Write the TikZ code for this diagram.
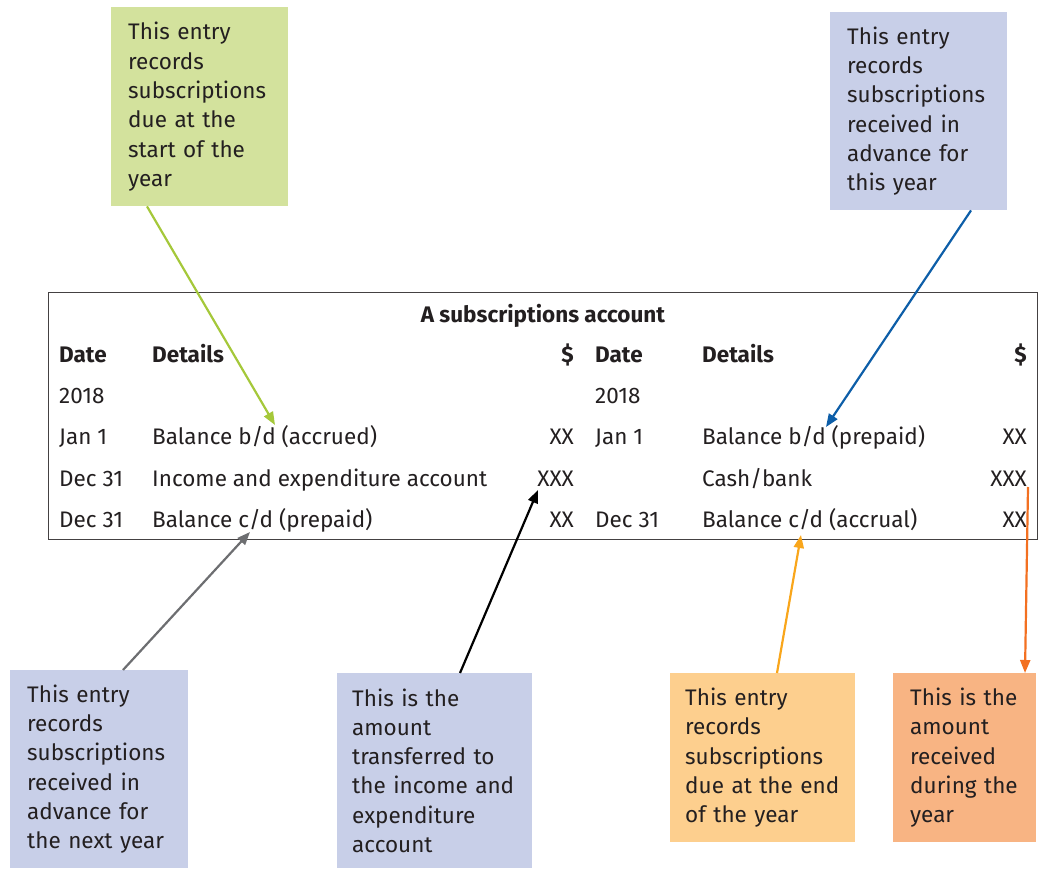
\documentclass[tikz,border=0pt]{standalone}
\usepackage{fontspec}
\setmainfont{Fira Sans}
\usepackage{xcolor}
\usetikzlibrary{arrows.meta}

% Couleurs des encadrés et des flèches
\definecolor{encre}{HTML}{231F20}
\definecolor{vertfond}{HTML}{D3E29D}
\definecolor{vertfleche}{HTML}{A5C83A}
\definecolor{bleufond}{HTML}{C8CFE8}
\definecolor{bleufleche}{HTML}{0D5EA8}
\definecolor{grisfleche}{HTML}{6D6E71}
\definecolor{jaunefond}{HTML}{FDCF8E}
\definecolor{jaunefleche}{HTML}{F9A61B}
\definecolor{orangefond}{HTML}{F8B483}
\definecolor{orangefleche}{HTML}{F37021}

\begin{document}
\begin{tikzpicture}[x=1pt, y=1pt,
    every node/.style={font=\fontsize{22.5}{29.3}\selectfont, text=encre},
    note/.style={anchor=north west, inner xsep=17pt, inner ysep=0pt, align=left},
    cell/.style={anchor=base west, inner sep=0pt},
    num/.style={anchor=base east, inner sep=0pt},
    head/.style={font=\fontsize{22.5}{29.3}\selectfont\bfseries},
    fleche/.style={-{Triangle[length=13pt, width=10pt]}, line width=2.2pt}]

    \useasboundingbox (0,0) rectangle (1046,868);

    % Cadre du compte
    \draw[line width=0.9pt, encre!85] (48,576) rectangle (1037,329);

    % Titre et en-têtes
    \node[num, head, anchor=base] (titre) at (543,545) {A subscriptions account};
    \node[cell, head] (dateG) at (59,505) {Date};
    \node[cell, head] (detG) at (152,505) {Details};
    \node[num, head] (dolG) at (574,505) {\$};
    \node[cell, head] (dateD) at (595,505) {Date};
    \node[cell, head] (detD) at (702,505) {Details};
    \node[num, head] (dolD) at (1027,505) {\$};

    % Côté gauche
    \node[cell] (anG) at (59,464) {2018};
    \node[cell] (janG) at (59,423) {Jan 1};
    \node[cell] (bdG) at (152,423) {Balance b/d (accrued)};
    \node[num] (xxG1) at (574,423) {XX};
    \node[cell] (decG1) at (59,381) {Dec 31};
    \node[cell] (ieG) at (152,381) {Income and expenditure account};
    \node[num] (xxG2) at (574,381) {XXX};
    \node[cell] (decG2) at (59,340) {Dec 31};
    \node[cell] (cdG) at (152,340) {Balance c/d (prepaid)};
    \node[num] (xxG3) at (574,340) {XX};

    % Côté droit
    \node[cell] (anD) at (595,464) {2018};
    \node[cell] (janD) at (595,423) {Jan 1};
    \node[cell] (bdD) at (702,423) {Balance b/d (prepaid)};
    \node[num] (xxD1) at (1027,423) {XX};
    \node[cell] (cashD) at (702,381) {Cash/bank};
    \node[num] (xxD2) at (1027,381) {XXX};
    \node[cell] (decD) at (595,340) {Dec 31};
    \node[cell] (cdD) at (702,340) {Balance c/d (accrual)};
    \node[num] (xxD3) at (1027,340) {XX};

    % Encadrés explicatifs
    \node[note, fill=vertfond, text width=143pt, minimum height=199pt] (debut) at (111,861)
        {This entry\\records\\subscriptions\\due at the\\start of the\\year};
    \node[note, fill=bleufond, text width=143pt, minimum height=198pt] (avance) at (830,856)
        {This entry\\records\\subscriptions\\received in\\advance for\\this year};
    \node[note, fill=bleufond, text width=144pt, minimum height=198pt] (suivante) at (10,198)
        {This entry\\records\\subscriptions\\received in\\advance for\\the next year};
    \node[note, fill=bleufond, inner xsep=15pt, text width=165pt, minimum height=195pt] (transfert) at (337,195)
        {This is the\\amount\\transferred to\\the income and\\expenditure\\account};
    \node[note, fill=jaunefond, inner xsep=15pt, text width=155pt, minimum height=169pt] (fin) at (670,195)
        {This entry\\records\\subscriptions\\due at the end\\of the year};
    \node[note, fill=orangefond, text width=109pt, minimum height=169pt] (recu) at (893,195)
        {This is the\\amount\\received\\during the\\year};

    % Points visés dans le compte
    \coordinate (cAccrued) at (275,443);
    \coordinate (cPrepaid) at (826,441);
    \coordinate (cPrepaidCd) at (250,336);
    \coordinate (cTransfert) at (538,378);
    \coordinate (cAccrual) at (801,333);
    \coordinate (cCash) at (1028,381);

    % Flèches
    \draw[fleche, vertfleche] (debut.south -| 147,0) -- (cAccrued);
    \draw[fleche, bleufleche] (avance.south -| 971,0) -- (cPrepaid);
    \draw[fleche, grisfleche] (suivante.north -| 123,0) -- (cPrepaidCd);
    \draw[fleche, black] (transfert.north -| 460,0) -- (cTransfert);
    \draw[fleche, jaunefleche] (fin.north -| 777,0) -- (cAccrual);
    \draw[fleche, orangefleche] (cCash) -- (recu.north -| 1025,0);

\end{tikzpicture}
\end{document}
